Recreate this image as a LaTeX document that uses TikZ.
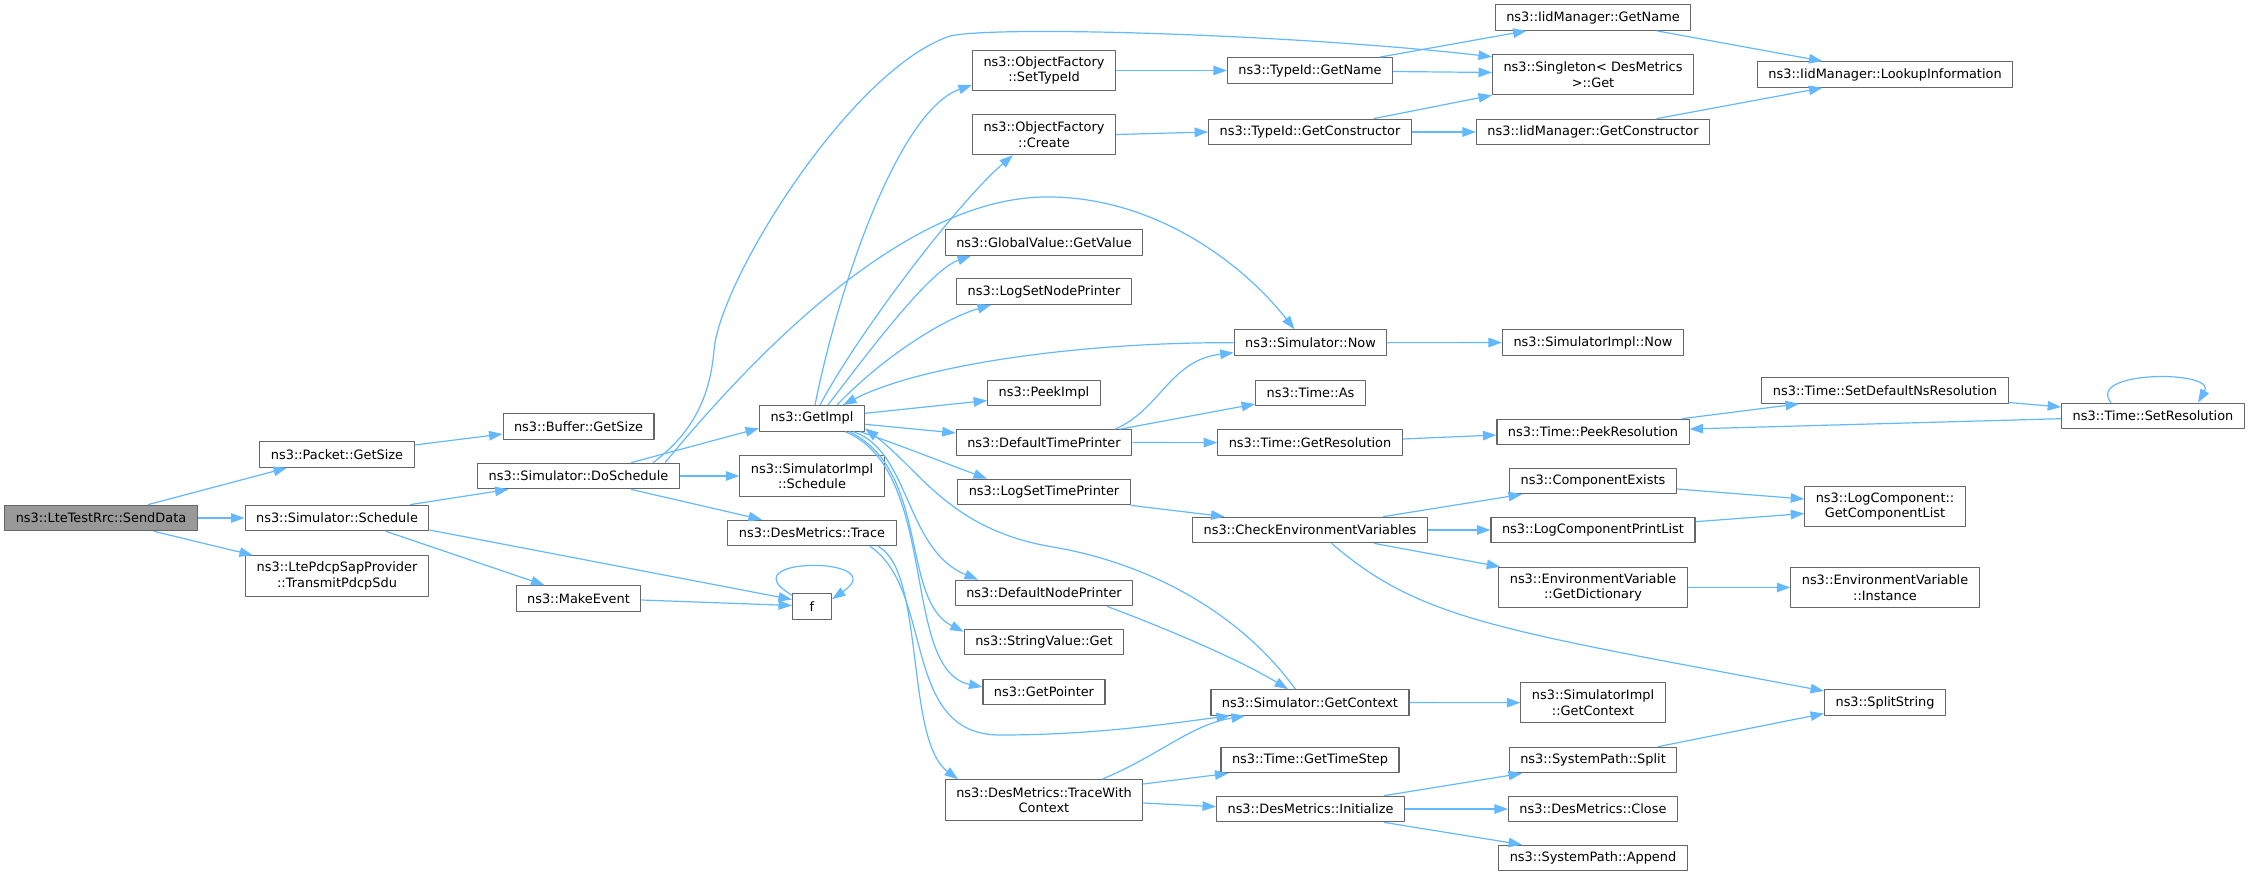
\documentclass[tikz,border=0pt]{standalone}
\usepackage{fontspec}
\setmainfont{DejaVu Sans}
\usetikzlibrary{arrows.meta}
\definecolor{edgeblue}{HTML}{63B8FF}
\definecolor{boxgray}{HTML}{666666}
\definecolor{rootgray}{HTML}{999999}
\begin{document}
\begin{tikzpicture}[x=1bp, y=-1bp, line join=round, >={Triangle[length=13.5bp,width=9.5bp]},
	fn/.style={draw=boxgray, fill=white, line width=1.1bp, inner xsep=11bp, inner ysep=2bp, minimum height=25.6bp, font=\fontsize{12.9bp}{15.5bp}\selectfont},
	fn2/.style={fn, align=center, minimum height=40.4bp},
	rootfn/.style={fn, fill=rootgray},
	call/.style={->, draw=edgeblue, line width=1.2bp}]
				\useasboundingbox (0,0) rectangle (2251,876);
				\node[rootfn] (sendData) at (101,518) {ns3::LteTestRrc::SendData};
				\node[fn] (pktGetSize) at (337,454.5) {ns3::Packet::GetSize};
				\node[fn] (simSchedule) at (337,518) {ns3::Simulator::Schedule};
				\node[fn2] (transmitPdcp) at (337,576) {ns3::LtePdcpSapProvider\\::TransmitPdcpSdu};
				\node[fn] (bufGetSize) at (578.5,426.5) {ns3::Buffer::GetSize};
				\node[fn] (doSchedule) at (578.5,476) {ns3::Simulator::DoSchedule};
				\node[fn] (makeEvent) at (578.5,598.5) {ns3::MakeEvent};
				\node[fn] (getImpl) at (812,418.3) {ns3::GetImpl};
				\node[fn2] (implSchedule) at (812,476) {ns3::SimulatorImpl\\::Schedule};
				\node[fn] (desTrace) at (812,533) {ns3::DesMetrics::Trace};
				\node[fn, minimum width=39bp] (f) at (812,606.5) {f};
				\node[fn2] (setTypeId) at (1044,70.5) {ns3::ObjectFactory\\::SetTypeId};
				\node[fn2] (ofCreate) at (1044,134.5) {ns3::ObjectFactory\\::Create};
				\node[fn] (gvGetValue) at (1044,242.5) {ns3::GlobalValue::GetValue};
				\node[fn] (logSetNode) at (1044,291.5) {ns3::LogSetNodePrinter};
				\node[fn] (peekImpl) at (1044,393) {ns3::PeekImpl};
				\node[fn] (defTimePrinter) at (1044,442.5) {ns3::DefaultTimePrinter};
				\node[fn] (logSetTime) at (1044,492) {ns3::LogSetTimePrinter};
				\node[fn] (defNodePrinter) at (1044,593) {ns3::DefaultNodePrinter};
				\node[fn] (strGet) at (1044,642) {ns3::StringValue::Get};
				\node[fn] (getPointer) at (1044,692) {ns3::GetPointer};
				\node[fn2] (traceCtx) at (1044,800) {ns3::DesMetrics::TraceWith\\Context};
				\node[fn] (tidGetName) at (1310,70.5) {ns3::TypeId::GetName};
				\node[fn] (tidGetCtor) at (1310,132) {ns3::TypeId::GetConstructor};
				\node[fn] (simNow) at (1310.5,342.7) {ns3::Simulator::Now};
				\node[fn] (timeAs) at (1310.5,393) {ns3::Time::As};
				\node[fn] (getRes) at (1310,442.7) {ns3::Time::GetResolution};
				\node[fn] (checkEnv) at (1310,530) {ns3::CheckEnvironmentVariables};
				\node[fn] (simGetCtx) at (1310,702.5) {ns3::Simulator::GetContext};
				\node[fn] (getTimeStep) at (1310,760) {ns3::Time::GetTimeStep};
				\node[fn] (desInit) at (1310.5,809) {ns3::DesMetrics::Initialize};
				\node[fn] (iidGetName) at (1593,17.5) {ns3::IidManager::GetName};
				\node[fn2] (singletonGet) at (1593,74.5) {ns3::Singleton< DesMetrics\\>::Get};
				\node[fn] (iidGetCtor) at (1593,132) {ns3::IidManager::GetConstructor};
				\node[fn] (implNow) at (1593,342.5) {ns3::SimulatorImpl::Now};
				\node[fn] (peekRes) at (1593,432) {ns3::Time::PeekResolution};
				\node[fn] (compExists) at (1593,481) {ns3::ComponentExists};
				\node[fn] (logCompPrint) at (1593,530) {ns3::LogComponentPrintList};
				\node[fn2] (envGetDict) at (1593,587.5) {ns3::EnvironmentVariable\\::GetDictionary};
				\node[fn2] (implGetCtx) at (1593,702.7) {ns3::SimulatorImpl\\::GetContext};
				\node[fn] (sysSplit) at (1593,760) {ns3::SystemPath::Split};
				\node[fn] (desClose) at (1593,809) {ns3::DesMetrics::Close};
				\node[fn] (sysAppend) at (1593,858) {ns3::SystemPath::Append};
				\node[fn] (lookupInfo) at (1885,74.5) {ns3::IidManager::LookupInformation};
				\node[fn] (setDefNs) at (1885,390.5) {ns3::Time::SetDefaultNsResolution};
				\node[fn2] (getCompList) at (1885,506.5) {ns3::LogComponent::\\GetComponentList};
				\node[fn2] (envInstance) at (1885,587.5) {ns3::EnvironmentVariable\\::Instance};
				\node[fn] (splitString) at (1885,702.5) {ns3::SplitString};
				\node[fn] (setRes) at (2153,416) {ns3::Time::SetResolution};
				\draw[call] ([xshift=47bp]sendData.north) -- ([xshift=-50bp]pktGetSize.south);
				\draw[call] (sendData) -- (simSchedule);
				\draw[call] ([xshift=53bp]sendData.south) -- ([xshift=-84bp]transmitPdcp.north);
				\draw[call] ([yshift=9.5bp]pktGetSize.east) -- ([yshift=-7.5bp]bufGetSize.west);
				\draw[call] ([xshift=73bp]simSchedule.north) -- ([xshift=-70bp]doSchedule.south);
				\draw[call] ([xshift=49bp]simSchedule.south) -- ([xshift=-34bp]makeEvent.north);
				\draw[call] ([yshift=-12bp]simSchedule.east) -- ([yshift=7bp]f.west);
				\draw[call] ([yshift=-1.5bp]makeEvent.east) -- ([yshift=1bp]f.west);
				\draw[call] ([yshift=-2bp]f.north west) .. controls (725,556) and (895,556) .. ([yshift=-6bp]f.north east);
				\draw[call] ([xshift=52.5bp]doSchedule.north) -- ([yshift=-10bp]getImpl.west);
				\draw[call] (doSchedule) -- (implSchedule);
				\draw[call] ([xshift=52.5bp]doSchedule.south) -- ([xshift=-50bp]desTrace.north);
				\draw[call] ([xshift=74.5bp]doSchedule.north) .. controls (690,435) and (710,400) .. (714,350) .. controls (720,280) and (850,70) .. (950,36) .. controls (1000,25) and (1300,35) .. ([yshift=-3bp]singletonGet.north west);
				\draw[call] ([xshift=86.5bp]doSchedule.north) .. controls (750,360) and (900,200) .. (1043,197) .. controls (1150,195) and (1240,260) .. ([xshift=-16bp]simNow.north);
				\draw[call] ([xshift=3bp]getImpl.north) .. controls (840,280) and (900,110) .. ([yshift=-14.5bp]setTypeId.west);
				\draw[call] ([xshift=8bp]getImpl.north) .. controls (860,330) and (960,200) .. ([xshift=-31bp]ofCreate.south);
				\draw[call] ([xshift=16bp]getImpl.north) .. controls (870,350) and (930,270) .. ([xshift=-73bp]gvGetValue.south);
				\draw[call] ([xshift=25bp]getImpl.north) .. controls (880,360) and (940,320) .. ([xshift=-53bp]logSetNode.south);
				\draw[call] (simNow.west) .. controls (1080,342) and (920,365) .. ([xshift=31bp]getImpl.north);
				\draw[call] ([yshift=5bp]getImpl.east) -- ([yshift=-7.5bp]peekImpl.west);
				\draw[call] ([yshift=-6bp]getImpl.east) -- ([yshift=9.5bp]defTimePrinter.west);
				\draw[call] ([xshift=-5bp]getImpl.south east) .. controls (900,445) and (950,465) .. ([xshift=-57bp]logSetTime.north);
				\draw[call] ([xshift=-12bp]getImpl.south east) .. controls (910,450) and (905,550) .. ([xshift=-66bp]defNodePrinter.north);
				\draw[call] ([xshift=-16bp]getImpl.south east) .. controls (930,470) and (900,600) .. ([yshift=-3bp]strGet.north west);
				\draw[call] ([xshift=-20bp]getImpl.south east) .. controls (940,470) and (900,670) .. ([yshift=5bp]getPointer.west);
				\draw[call] ([xshift=-14.5bp]simGetCtx.north) .. controls (1230,600) and (1130,560) .. (1053,547) .. controls (950,530) and (920,470) .. ([yshift=-10bp]getImpl.east);
				\draw[call] ([xshift=66bp]desTrace.south) .. controls (925,570) and (905,740) .. ([xshift=-86bp]traceCtx.north);
				\draw[call] ([xshift=58bp]desTrace.south) .. controls (935,590) and (900,735) .. (1000,735) .. controls (1100,735) and (1180,722) .. ([xshift=-80bp]simGetCtx.south);
				\draw[call] ([xshift=71bp]defTimePrinter.north) .. controls (1160,410) and (1170,360) .. ([yshift=-10bp]simNow.west);
				\draw[call] ([xshift=76bp]defTimePrinter.north) -- ([yshift=-11bp]timeAs.west);
				\draw[call] (defTimePrinter) -- (getRes);
				\draw[call] ([yshift=3.7bp]getRes.east) -- ([yshift=-3bp]peekRes.west);
				\draw[call] (simNow) -- (implNow);
				\draw[call] ([xshift=89bp]peekRes.north) -- ([xshift=-86bp]setDefNs.south);
				\draw[call] ([yshift=-12bp]setDefNs.east) -- ([yshift=9bp]setRes.west);
				\draw[call] ([yshift=-2.7bp]setRes.west) -- ([yshift=3bp]peekRes.east);
				\draw[call] ([xshift=-42bp]setRes.north) .. controls (2085,370) and (2217,370) .. ([xshift=45bp]setRes.north);
				\draw[call] (logSetTime.south east) -- ([xshift=-85.5bp]checkEnv.north);
				\draw[call] ([xshift=73bp]checkEnv.north) -- ([xshift=-71bp]compExists.south);
				\draw[call] (checkEnv) -- (logCompPrint);
				\draw[call] ([xshift=64bp]checkEnv.south) -- ([xshift=2bp]envGetDict.north west);
				\draw[call] ([xshift=21.6bp]checkEnv.south) .. controls (1420,620) and (1500,630) .. ([yshift=11.5bp]splitString.west);
				\draw[call] ([yshift=-8bp]compExists.east) -- ([yshift=7.5bp]getCompList.west);
				\draw[call] ([yshift=8.3bp]logCompPrint.east) -- ([yshift=-7bp]getCompList.west);
				\draw[call] (envGetDict) -- (envInstance);
				\draw[call] ([xshift=63bp]defNodePrinter.south) .. controls (1170,630) and (1240,660) .. ([xshift=-22bp]simGetCtx.north);
				\draw[call] (simGetCtx) -- (implGetCtx);
				\draw[call] ([xshift=58bp]traceCtx.north) .. controls (1160,755) and (1190,725) .. ([xshift=-65bp]simGetCtx.south);
				\draw[call] ([yshift=16bp]traceCtx.east) -- ([xshift=8bp]getTimeStep.south west);
				\draw[call] ([yshift=-3bp]traceCtx.east) -- ([yshift=2.3bp]desInit.west);
				\draw[call] ([xshift=73.5bp]desInit.north) -- ([xshift=-71bp]sysSplit.south);
				\draw[call] (desInit) -- (desClose);
				\draw[call] ([xshift=73.5bp]desInit.south) -- ([xshift=-71bp]sysAppend.north);
				\draw[call] ([xshift=65bp]sysSplit.north) -- ([yshift=-11bp]splitString.west);
				\draw[call] (setTypeId) -- (tidGetName);
				\draw[call] (ofCreate.east) -- (tidGetCtor.west);
				\draw[call] ([xshift=69.6bp]tidGetName.north) -- ([xshift=-66.5bp]iidGetName.south);
				\draw[call] ([yshift=-1bp]tidGetName.east) -- ([yshift=2bp]singletonGet.west);
				\draw[call] ([xshift=63.5bp]tidGetCtor.north) -- (singletonGet.south west);
				\draw[call] (tidGetCtor) -- (iidGetCtor);
				\draw[call] ([xshift=63.6bp]iidGetName.south) -- ([xshift=-62.6bp]lookupInfo.north);
				\draw[call] ([xshift=63.6bp]iidGetCtor.north) -- ([xshift=-62.6bp]lookupInfo.south);
			\end{tikzpicture}
\end{document}
